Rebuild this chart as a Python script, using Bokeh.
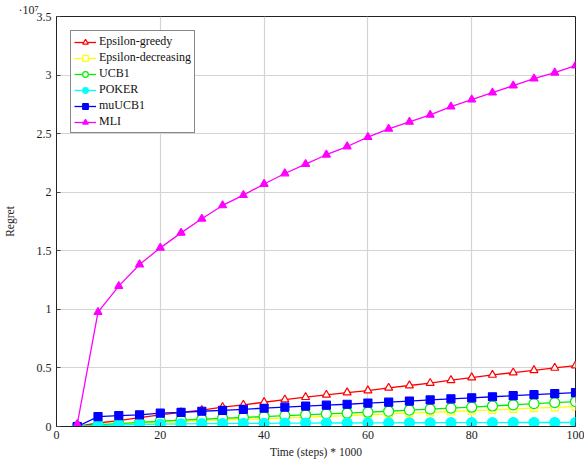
from bokeh.plotting import figure
from bokeh.models import Legend, LegendItem, FixedTicker, Range1d
from bokeh.embed import file_html
from bokeh.resources import INLINE

steps = [4, 8, 12, 16, 20, 24, 28, 32, 36, 40, 44, 48, 52, 56, 60, 64, 68, 72, 76, 80, 84, 88, 92, 96, 100]

# regret values in units of 1e7
eps_greedy = [0.0, 0.03, 0.05, 0.075, 0.10, 0.12, 0.14, 0.165, 0.185, 0.207, 0.23, 0.25, 0.27, 0.29, 0.307,
              0.33, 0.35, 0.37, 0.395, 0.418, 0.44, 0.46, 0.48, 0.50, 0.52]
eps_decreasing = [0.0, 0.01, 0.02, 0.03, 0.035, 0.04, 0.05, 0.055, 0.06, 0.065, 0.072, 0.08, 0.087, 0.093, 0.10,
                  0.108, 0.115, 0.12, 0.128, 0.135, 0.142, 0.15, 0.157, 0.163, 0.17]
ucb1 = [0.0, 0.015, 0.025, 0.035, 0.045, 0.055, 0.062, 0.07, 0.077, 0.085, 0.093, 0.10, 0.108, 0.115, 0.122,
        0.13, 0.14, 0.148, 0.157, 0.165, 0.175, 0.185, 0.195, 0.204, 0.213]
poker = [0.0, 0.008, 0.013, 0.017, 0.02, 0.022, 0.024, 0.025, 0.026, 0.027, 0.028, 0.029, 0.03, 0.03, 0.031,
         0.031, 0.032, 0.032, 0.033, 0.033, 0.033, 0.034, 0.034, 0.034, 0.034]
mu_ucb1 = [0.0, 0.085, 0.093, 0.10, 0.114, 0.12, 0.13, 0.138, 0.147, 0.156, 0.165, 0.174, 0.182, 0.19, 0.20,
           0.208, 0.217, 0.227, 0.236, 0.245, 0.254, 0.263, 0.272, 0.281, 0.29]
mli = [0.02, 0.976, 1.198, 1.383, 1.525, 1.653, 1.773, 1.887, 1.975, 2.07, 2.16, 2.24, 2.32, 2.39, 2.47,
       2.54, 2.60, 2.66, 2.73, 2.79, 2.85, 2.91, 2.97, 3.02, 3.08]

x_ticks = [0, 20, 40, 60, 80, 100]
y_ticks = [0, 0.5, 1, 1.5, 2, 2.5, 3, 3.5]
y_tick_labels = {0: "0", 0.5: "0.5", 1: "1", 1.5: "1.5", 2: "2", 2.5: "2.5", 3: "3", 3.5: "3.5"}
scale_label = "·10⁷"

FONT = "Liberation Serif"

p = figure(width=584, height=465, output_backend="svg", toolbar_location=None,
           x_range=Range1d(0, 100), y_range=Range1d(0, 3.5),
           min_border_left=56, min_border_right=9, min_border_top=0, min_border_bottom=39)

# scale factor shown as the title, placed above the y axis
p.title.text = scale_label
p.title.align = "left"
p.title.offset = -38
p.title.text_font = FONT
p.title.text_font_size = "12px"
p.title.text_font_style = "normal"
p.title.text_color = "#222222"
p.title.standoff = 0

p.outline_line_color = "#222222"
p.outline_line_width = 1
p.background_fill_color = "white"
p.border_fill_color = "white"

for ax in (p.xaxis[0], p.yaxis[0]):
    ax.axis_line_color = "#222222"
    ax.major_tick_in = 4
    ax.major_tick_out = 0
    ax.minor_tick_line_color = None
    ax.major_tick_line_color = "#444444"
    ax.major_label_text_font = FONT
    ax.major_label_text_font_size = "12px"
    ax.major_label_text_color = "#222222"
    ax.axis_label_text_font = FONT
    ax.axis_label_text_font_size = "11.5px"
    ax.axis_label_text_font_style = "normal"
    ax.axis_label_text_color = "#222222"

p.xaxis.ticker = FixedTicker(ticks=x_ticks)
p.yaxis.ticker = FixedTicker(ticks=y_ticks)
p.yaxis.major_label_overrides = y_tick_labels
p.xaxis.axis_label = "Time (steps) * 1000"
p.yaxis.axis_label = "Regret"
p.xaxis.major_label_standoff = 4
p.yaxis.major_label_standoff = 5
p.xaxis.axis_label_standoff = 4
p.yaxis.axis_label_standoff = 18

p.grid.grid_line_color = "#d4d4d4"
p.grid.grid_line_width = 1.2

series = [
    ("Epsilon-greedy", eps_greedy, "#ff0000", "triangle", 8, "white"),
    ("Epsilon-decreasing", eps_decreasing, "#ffff00", "square", 7, "white"),
    ("UCB1", ucb1, "#00ee00", "circle", 10, "white"),
    ("POKER", poker, "#00ffff", "circle", 10, "#00ffff"),
    ("muUCB1", mu_ucb1, "#0000ff", "square", 8, "#0000ff"),
    ("MLI", mli, "#ff00ff", "triangle", 8, "#ff00ff"),
]

items = []
for name, ys, color, marker, size, fill in series:
    ln = p.line(steps, ys, line_color=color, line_width=1.3)
    mk = p.scatter(steps, ys, marker=marker, size=size, line_color=color, fill_color=fill, line_width=1.2)
    items.append(LegendItem(label=name, renderers=[ln, mk]))

legend = Legend(items=items, location="top_left", margin=14,
                label_text_font=FONT, label_text_font_size="12px", label_text_color="#111111",
                label_height=14, glyph_height=14, glyph_width=22, spacing=1, padding=3,
                label_standoff=3, border_line_color="#111111", border_line_width=1,
                background_fill_alpha=1)
p.add_layout(legend, "center")

open("out.html", "w").write(file_html(p, INLINE))
